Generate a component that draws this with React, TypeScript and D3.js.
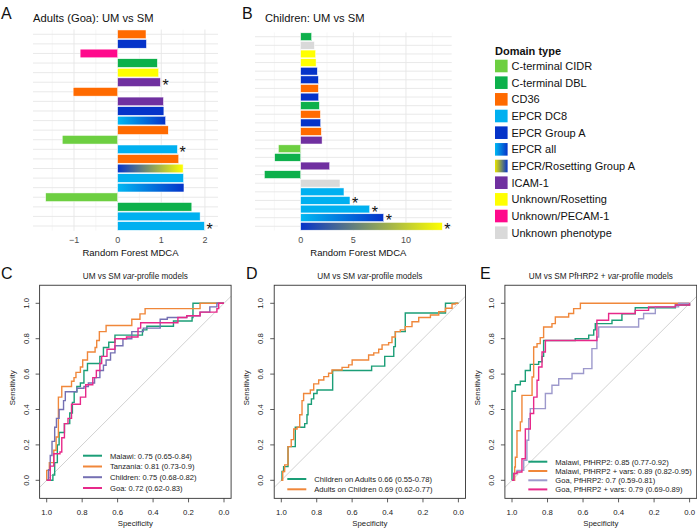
import React from "react";
import * as d3 from "d3";

// ---------- Data ----------
const domainTypes = [
  "C-terminal CIDR", "C-terminal DBL", "CD36", "EPCR DC8", "EPCR Group A", "EPCR all",
  "EPCR/Rosetting Group A", "ICAM-1", "Unknown/Rosetting", "Unknown/PECAM-1", "Unknown phenotype",
];

const adultDomains = [
  "CD36", "EPCR Group A", "Unknown/PECAM-1", "C-terminal DBL", "Unknown/Rosetting", "ICAM-1",
  "CD36", "ICAM-1", "EPCR Group A", "EPCR all", "CD36", "C-terminal CIDR", "EPCR DC8", "CD36",
  "EPCR/Rosetting Group A", "EPCR DC8", "EPCR all", "C-terminal CIDR", "C-terminal DBL", "EPCR DC8", "EPCR DC8",
];
const adultMDCA = [0.65, 0.66, -0.86, 0.91, 0.94, 0.98, -1.02, 1.05, 1.06, 1.1, 1.16, -1.27, 1.37, 1.4, 1.5, 1.51, 1.52, -1.65, 1.7, 1.89, 1.99];
const adultSig = [false, false, false, false, false, true, false, false, false, false, false, false, true, false, false, false, false, false, false, false, true];

const childDomains = [
  "C-terminal DBL", "Unknown phenotype", "Unknown/Rosetting", "Unknown/Rosetting", "EPCR Group A", "EPCR Group A",
  "CD36", "EPCR Group A", "C-terminal DBL", "CD36", "EPCR Group A", "CD36", "ICAM-1", "C-terminal CIDR",
  "C-terminal DBL", "ICAM-1", "C-terminal DBL", "Unknown phenotype", "EPCR DC8", "EPCR DC8", "EPCR DC8",
  "EPCR all", "EPCR/Rosetting Group A",
];
const childMDCA = [1.04, 1.3, 1.42, 1.46, 1.58, 1.68, 1.68, 1.71, 1.77, 1.87, 1.9, 1.96, 2.03, -2.12, -2.47, 2.75, -3.45, 3.73, 4.11, 4.68, 6.55, 7.88, 13.45];
const childSig = [false, false, false, false, false, false, false, false, false, false, false, false, false, false, false, false, false, false, false, true, true, true, true];

const adultTicks = [-1, 0, 1, 2];
const adultMinor = [-1.5, -0.5, 0.5, 1.5];
const childTicks = [0, 5, 10];
const childMinor = [-2.5, 2.5, 7.5, 12.5];

const rocTicks = [0, 0.2, 0.4, 0.6, 0.8, 1.0];

// ROC curves: [specificity, sensitivity] at the top of each rise
const rocMalawi: [number, number][] = [[1, 0], [0.965, 0.03], [0.955, 0.1], [0.94, 0.2], [0.93, 0.27], [0.9, 0.32], [0.87, 0.38], [0.855, 0.44], [0.845, 0.5], [0.83, 0.53], [0.81, 0.55], [0.79, 0.62], [0.77, 0.66], [0.7, 0.7], [0.68, 0.75], [0.65, 0.78], [0.615, 0.82], [0.46, 0.85], [0.435, 0.87], [0.285, 0.9], [0.18, 0.92], [0.175, 1.0], [0, 1]];
const rocTanzania: [number, number][] = [[1, 0], [1.0, 0.056], [0.985, 0.1], [0.96, 0.17], [0.947, 0.245], [0.934, 0.47], [0.915, 0.53], [0.86, 0.56], [0.846, 0.58], [0.835, 0.61], [0.81, 0.64], [0.797, 0.68], [0.77, 0.725], [0.727, 0.75], [0.718, 0.79], [0.703, 0.84], [0.665, 0.875], [0.52, 0.91], [0.474, 0.94], [0.445, 0.97], [0.135, 1.0], [0, 1]];
const rocChildren: [number, number][] = [[1, 0], [0.99, 0.06], [0.98, 0.14], [0.97, 0.22], [0.955, 0.3], [0.945, 0.35], [0.93, 0.4], [0.905, 0.45], [0.895, 0.5], [0.83, 0.52], [0.79, 0.53], [0.765, 0.55], [0.73, 0.58], [0.7, 0.62], [0.68, 0.65], [0.665, 0.68], [0.64, 0.72], [0.615, 0.76], [0.57, 0.8], [0.52, 0.84], [0.455, 0.86], [0.36, 0.91], [0.32, 0.92], [0.21, 0.93], [0.135, 0.95], [0.08, 0.98], [0.04, 1.0], [0, 1]];
const rocGoa: [number, number][] = [[1, 0], [0.98, 0.08], [0.96, 0.15], [0.925, 0.16], [0.915, 0.24], [0.9, 0.32], [0.88, 0.35], [0.86, 0.43], [0.81, 0.47], [0.78, 0.54], [0.74, 0.58], [0.72, 0.62], [0.7, 0.66], [0.69, 0.7], [0.66, 0.74], [0.615, 0.8], [0.55, 0.81], [0.485, 0.86], [0.47, 0.89], [0.26, 0.92], [0.21, 0.93], [0.135, 0.95], [0.04, 0.97], [0.03, 1.0], [0, 1]];

const rocChildOnAdult: [number, number][] = [[1, 0], [0.996, 0.05], [0.987, 0.077], [0.962, 0.19], [0.921, 0.3], [0.868, 0.32], [0.855, 0.37], [0.849, 0.43], [0.83, 0.46], [0.817, 0.49], [0.798, 0.51], [0.71, 0.62], [0.49, 0.645], [0.416, 0.7], [0.365, 0.755], [0.356, 0.84], [0.3, 0.945], [0.073, 1.0], [0, 1]];
const rocAdultOnChild: [number, number][] = [[1, 0], [0.992, 0.05], [0.981, 0.087], [0.962, 0.19], [0.944, 0.23], [0.93, 0.29], [0.911, 0.3], [0.896, 0.37], [0.883, 0.45], [0.874, 0.49], [0.836, 0.51], [0.817, 0.545], [0.789, 0.567], [0.76, 0.586], [0.733, 0.605], [0.714, 0.623], [0.657, 0.638], [0.62, 0.652], [0.6, 0.68], [0.507, 0.708], [0.478, 0.72], [0.45, 0.74], [0.431, 0.765], [0.394, 0.778], [0.375, 0.81], [0.356, 0.84], [0.328, 0.85], [0.3, 0.868], [0.262, 0.896], [0.224, 0.92], [0.158, 0.934], [0.111, 0.953], [0.073, 0.972], [0.036, 0.996], [0.017, 1.0], [0, 1]];

const rocMalawiHRP2: [number, number][] = [[1, 0], [1.0, 0.503], [0.981, 0.54], [0.953, 0.56], [0.925, 0.62], [0.897, 0.655], [0.85, 0.67], [0.831, 0.7], [0.822, 0.79], [0.644, 0.8], [0.568, 0.82], [0.54, 0.85], [0.531, 0.885], [0.437, 0.904], [0.381, 0.94], [0.306, 0.975], [0.08, 0.99], [0, 1.0]];
const rocMalawiHRP2Vars: [number, number][] = [[1, 0], [0.985, 0.075], [0.981, 0.13], [0.972, 0.28], [0.953, 0.33], [0.944, 0.48], [0.887, 0.584], [0.878, 0.753], [0.859, 0.772], [0.841, 0.806], [0.822, 0.866], [0.775, 0.885], [0.756, 0.923], [0.681, 0.942], [0.653, 0.97], [0.615, 1.0], [0, 1]];
const rocGoaHRP2: [number, number][] = [[1, 0], [0.99, 0.038], [0.972, 0.056], [0.934, 0.113], [0.916, 0.226], [0.906, 0.348], [0.897, 0.405], [0.812, 0.49], [0.775, 0.537], [0.737, 0.574], [0.662, 0.603], [0.597, 0.631], [0.55, 0.744], [0.522, 0.81], [0.512, 0.866], [0.287, 0.913], [0.259, 0.942], [0.193, 0.98], [0.062, 1.0], [0, 1]];
const rocGoaHRP2Vars: [number, number][] = [[1, 0], [0.99, 0.038], [0.972, 0.047], [0.944, 0.122], [0.925, 0.29], [0.897, 0.377], [0.878, 0.47], [0.859, 0.565], [0.85, 0.64], [0.831, 0.725], [0.812, 0.79], [0.522, 0.904], [0.456, 0.942], [0.306, 0.96], [0.231, 0.98], [0.08, 0.99], [0, 1.0]];

const labelsC = ["Malawi: 0.75 (0.65-0.84)", "Tanzania: 0.81 (0.73-0.9)", "Children: 0.75 (0.68-0.82)", "Goa: 0.72 (0.62-0.83)"];
const labelsD = ["Children on Adults 0.66 (0.55-0.78)", "Adults on Children 0.69 (0.62-0.77)"];
const labelsE = ["Malawi, PfHRP2: 0.85 (0.77-0.92)", "Malawi, PfHRP2 + vars: 0.89 (0.82-0.95)", "Goa, PfHRP2: 0.7 (0.59-0.81)", "Goa, PfHRP2 + vars: 0.79 (0.69-0.89)"];

// ---------- Styles ----------
const FONT = "'Liberation Sans', Arial, Helvetica, sans-serif";
const domainFill: Record<string, string> = {
  "C-terminal CIDR": "#6DCF41",
  "C-terminal DBL": "#0DB04B",
  "CD36": "#FF6A00",
  "EPCR DC8": "#00B0F0",
  "EPCR Group A": "#0533C9",
  "EPCR all": "url(#gEpcrAll)",
  "EPCR/Rosetting Group A": "url(#gEpcrRos)",
  "ICAM-1": "#7030A0",
  "Unknown/Rosetting": "#FFFF00",
  "Unknown/PECAM-1": "#FF0A8C",
  "Unknown phenotype": "#D9D9D9",
};
const legendFill: Record<string, string> = { ...domainFill, "EPCR/Rosetting Group A": "url(#gEpcrRosKey)" };

const TEAL = "#1B9E77";
const ORANGE = "#F0873A";
const PURPLE = "#7570B3";
const PINK = "#E7298A";
const LAVENDER = "#9D99CC";

type BarProps = {
  domains: string[]; values: number[]; sig: boolean[];
  xDomain: [number, number]; xRange: [number, number]; yRange: [number, number];
  ticks: number[]; minor: number[];
};

function BarPanel({ domains, values, sig, xDomain, xRange, yRange, ticks, minor }: BarProps) {
  const x = d3.scaleLinear().domain(xDomain).range(xRange);
  const y = d3.scaleBand<number>().domain(d3.range(values.length)).range(yRange).paddingInner(0.1).paddingOuter(0.05);
  const fmt = d3.format("d");
  const gTop = yRange[0];
  const gBot = yRange[1];
  return (
    <g>
      {minor.map((t) => (
        <line key={"m" + t} x1={x(t)} x2={x(t)} y1={gTop} y2={gBot} stroke="#F2F2F2" strokeWidth={0.6} />
      ))}
      {ticks.map((t) => (
        <line key={"M" + t} x1={x(t)} x2={x(t)} y1={gTop} y2={gBot} stroke="#E6E6E6" strokeWidth={0.9} />
      ))}
      {values.map((_, i) => (
        <line key={"h" + i} x1={xRange[0]} x2={xRange[1]} y1={y(i)! + y.bandwidth() / 2} y2={y(i)! + y.bandwidth() / 2} stroke="#E6E6E6" strokeWidth={0.9} />
      ))}
      {values.map((v, i) => (
        <rect key={"b" + i} x={x(Math.min(0, v))} y={y(i)} width={Math.abs(x(v) - x(0))} height={y.bandwidth()}
          fill={domainFill[domains[i]]} stroke="#FFFFFF" strokeWidth={0.5} />
      ))}
      {values.map((v, i) => sig[i] ? (
        <text key={"s" + i} x={x(v) + 2} y={y(i)! + y.bandwidth() / 2 + 8.5} fontSize={16} fontFamily={FONT} fill="#111">*</text>
      ) : null)}
      {ticks.map((t) => (
        <text key={"t" + t} x={x(t)} y={242.5} fontSize={9} fontFamily={FONT} fill="#4D4D4D" textAnchor="middle">{fmt(t)}</text>
      ))}
      <text x={(xRange[0] + xRange[1]) / 2 + 5} y={255.5} fontSize={9.5} fontFamily={FONT} fill="#111" textAnchor="middle">Random Forest MDCA</text>
    </g>
  );
}

type RocSeries = { data: [number, number][]; color: string; label: string };
type RocProps = {
  x1: number; x0: number; series: RocSeries[];
  legendX: number; legendY: number[]; title: React.ReactNode;
};

function RocPanel({ x1, x0, series, legendX, legendY, title }: RocProps) {
  const x = d3.scaleLinear().domain([1, 0]).range([x1, x0]);
  const y = d3.scaleLinear().domain([0, 1]).range([480.3, 303.3]);
  const left = x(1.04), right = x(-0.04), top = y(1.102), bottom = y(-0.102);
  const line = d3.line<[number, number]>().x((d) => x(d[0])).y((d) => y(d[1])).curve(d3.curveStepAfter);
  const fmt = d3.format(".1f");
  const cx = (left + right) / 2;
  return (
    <g fontFamily={FONT}>
      <defs>
        <clipPath id={"clip" + Math.round(x1)}>
          <rect x={left} y={top} width={right - left} height={bottom - top} />
        </clipPath>
      </defs>
      <line x1={x(1.04)} y1={y(-0.04)} x2={x(-0.04)} y2={y(1.04)} stroke="#BDBDBD" strokeWidth={0.7} clipPath={`url(#clip${Math.round(x1)})`} />
      {series.map((s, i) => (
        <path key={i} d={line(s.data) || ""} fill="none" stroke={s.color} strokeWidth={1.4} />
      ))}
      <rect x={left} y={top} width={right - left} height={bottom - top} fill="none" stroke="#333" strokeWidth={0.9} />
      {rocTicks.map((t) => (
        <g key={"x" + t}>
          <line x1={x(t)} x2={x(t)} y1={bottom} y2={bottom + 4} stroke="#333" strokeWidth={0.8} />
          <text x={x(t)} y={515} fontSize={7.8} textAnchor="middle" fill="#222">{fmt(t)}</text>
        </g>
      ))}
      {rocTicks.map((t) => (
        <g key={"y" + t}>
          <line x1={left - 4} x2={left} y1={y(t)} y2={y(t)} stroke="#333" strokeWidth={0.8} />
          <text transform={`translate(${left - 11},${y(t)}) rotate(-90)`} fontSize={7.8} textAnchor="middle" fill="#222">{fmt(t)}</text>
        </g>
      ))}
      <text x={(x(1) + x(0)) / 2} y={525.5} fontSize={7.8} textAnchor="middle" fill="#222">Specificity</text>
      <text transform={`translate(${left - 25},${(top + bottom) / 2 - 4}) rotate(-90)`} fontSize={7.8} textAnchor="middle" fill="#222">Sensitivity</text>
      <text x={cx} y={278.5} fontSize={8.2} textAnchor="middle" fill="#222">{title}</text>
      {series.map((s, i) => (
        <g key={"l" + i}>
          <line x1={legendX - 27} x2={legendX - 8} y1={legendY[i]} y2={legendY[i]} stroke={s.color} strokeWidth={2} />
          <text x={legendX} y={legendY[i] + 2.8} fontSize={7.6} fill="#222">{s.label}</text>
        </g>
      ))}
    </g>
  );
}

export default function App() {
  return (
    <svg width={697} height={528} style={{ position: "absolute", left: 0, top: 0, background: "#fff" }}>
      <defs>
        <linearGradient id="gEpcrAll" x1="0" x2="1" y1="0" y2="0">
          <stop offset="0" stopColor="#00B8F2" />
          <stop offset="1" stopColor="#0533C9" />
        </linearGradient>
        <linearGradient id="gEpcrRos" x1="0" x2="1" y1="0" y2="0">
          <stop offset="0" stopColor="#0533C9" />
          <stop offset="1" stopColor="#FFFF00" />
        </linearGradient>
        <linearGradient id="gEpcrRosKey" x1="0" x2="1" y1="0" y2="0">
          <stop offset="0" stopColor="#E8E400" />
          <stop offset="1" stopColor="#0533C9" />
        </linearGradient>
      </defs>
      <rect width={697} height={528} fill="#fff" />

      {/* Panel letters */}
      <g fontFamily={FONT} fontSize={16} fill="#111">
        <text x={1} y={18.5}>A</text>
        <text x={242} y={18.5}>B</text>
        <text x={1} y={278.5}>C</text>
        <text x={246} y={278.5}>D</text>
        <text x={480} y={278.5}>E</text>
      </g>

      <text x={33} y={22} fontFamily={FONT} fontSize={11.2} fill="#111">Adults (Goa): UM vs SM</text>
      <text x={265} y={22} fontFamily={FONT} fontSize={11.2} fill="#111">Children: UM vs SM</text>

      <BarPanel domains={adultDomains} values={adultMDCA} sig={adultSig}
        xDomain={[-1.94, 2.3]} xRange={[33, 218]} yRange={[29.5, 230.8]} ticks={adultTicks} minor={adultMinor} />
      <BarPanel domains={childDomains} values={childMDCA} sig={childSig}
        xDomain={[-4.34, 14.34]} xRange={[255, 451.7]} yRange={[32.4, 230.6]} ticks={childTicks} minor={childMinor} />

      {/* Legend */}
      <g fontFamily={FONT}>
        <text x={495} y={55} fontSize={11} fontWeight="bold" fill="#111">Domain type</text>
        {domainTypes.map((d, i) => (
          <g key={d}>
            <rect x={495} y={66 + i * 16.67 - 6.3} width={12.6} height={12.6} fill={legendFill[d]} />
            <text x={511.5} y={66 + i * 16.67 + 4} fontSize={11} fill="#111">{d}</text>
          </g>
        ))}
      </g>

      <RocPanel x1={46.7} x0={224} legendX={110} legendY={[455.7, 466.5, 477.2, 488]}
        title={<><tspan>UM vs SM </tspan><tspan fontStyle="italic">var</tspan><tspan>-profile models</tspan></>}
        series={[
          { data: rocMalawi, color: TEAL, label: labelsC[0] },
          { data: rocTanzania, color: ORANGE, label: labelsC[1] },
          { data: rocChildren, color: PURPLE, label: labelsC[2] },
          { data: rocGoa, color: PINK, label: labelsC[3] },
        ]} />
      <RocPanel x1={281.3} x0={458.4} legendX={314.3} legendY={[479, 489.3]}
        title={<><tspan>UM vs SM </tspan><tspan fontStyle="italic">var</tspan><tspan>-profile models</tspan></>}
        series={[
          { data: rocChildOnAdult, color: TEAL, label: labelsD[0] },
          { data: rocAdultOnChild, color: ORANGE, label: labelsD[1] },
        ]} />
      <RocPanel x1={512} x0={689.6} legendX={555.3} legendY={[461.7, 471, 480.3, 489.4]}
        title={<><tspan>UM vs SM PfHRP2 + </tspan><tspan fontStyle="italic">var</tspan><tspan>-profile models</tspan></>}
        series={[
          { data: rocMalawiHRP2, color: TEAL, label: labelsE[0] },
          { data: rocMalawiHRP2Vars, color: ORANGE, label: labelsE[1] },
          { data: rocGoaHRP2, color: LAVENDER, label: labelsE[2] },
          { data: rocGoaHRP2Vars, color: PINK, label: labelsE[3] },
        ]} />
    </svg>
  );
}
